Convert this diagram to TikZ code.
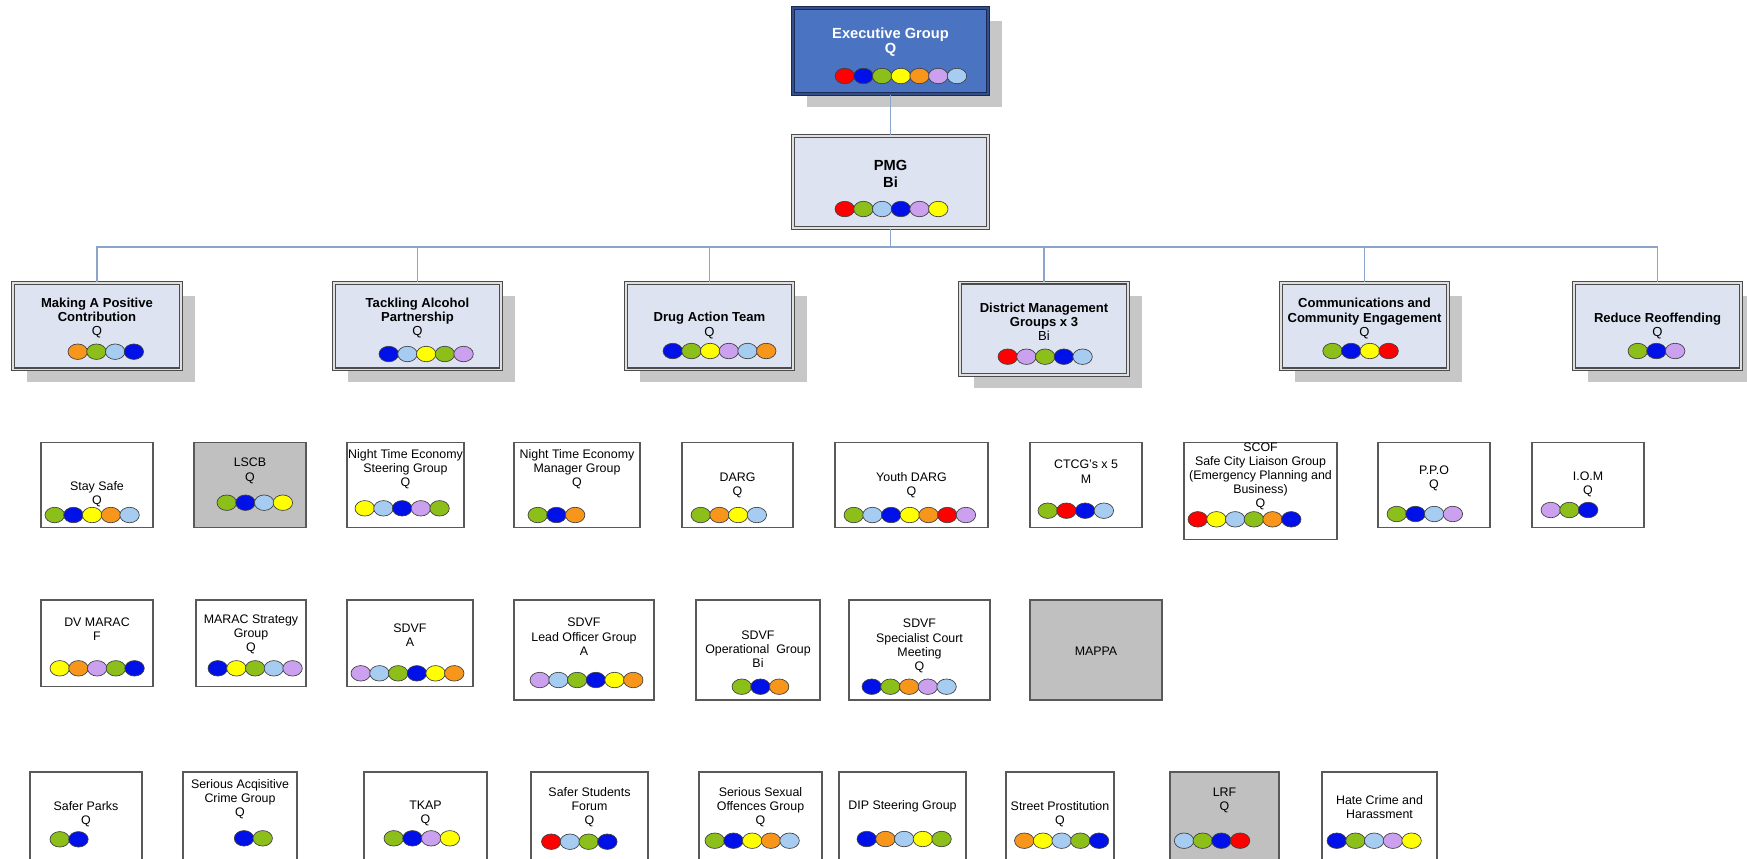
\documentclass[tikz,border=0pt]{standalone}
\usepackage{fontspec}
\setmainfont{Liberation Sans}
\usepackage{tikz}
\usetikzlibrary{shadows}
\definecolor{topblue}{HTML}{4A73C2}
\definecolor{topnavy}{HTML}{1B2A55}
\definecolor{leadfill}{HTML}{DDE3F1}
\definecolor{greyfill}{HTML}{C0C0C0}
\definecolor{linkblue}{HTML}{8AA5C8}
\definecolor{bR}{HTML}{FF0000}
\definecolor{bB}{HTML}{0010E8}
\definecolor{bG}{HTML}{8CBF1A}
\definecolor{bY}{HTML}{FFFF00}
\definecolor{bO}{HTML}{F8961C}
\definecolor{bL}{HTML}{CBA0EE}
\definecolor{bS}{HTML}{A6CCF2}
\tikzstyle{panel} = [rectangle, draw=black!70, line width=0.8pt, double=black!12, double distance=1.2pt, fill=leadfill, inner sep=0pt]
\tikzstyle{leadbox} = [panel, drop shadow={shadow xshift=10.5pt, shadow yshift=-9.75pt, fill=black!22, opacity=1}]
\tikzstyle{topbox} = [panel, draw=topnavy, double=topnavy!50!topblue, fill=topblue, drop shadow={shadow xshift=10.5pt, shadow yshift=-9.75pt, fill=black!22, opacity=1}]
\tikzstyle{groupbox} = [rectangle, draw=black!65, line width=0.9pt, fill=white, inner sep=0pt]
\tikzstyle{greybox} = [groupbox, fill=greyfill]
\tikzstyle{toptxt} = [align=center, inner sep=0pt, text=white, font=\fontsize{11}{11.6}\selectfont\bfseries]
\tikzstyle{leadtxt} = [align=center, inner sep=0pt, font=\fontsize{9.8}{10.6}\selectfont]
\tikzstyle{grptxt} = [align=center, inner sep=0pt, font=\fontsize{9.3}{10.6}\selectfont]
\tikzstyle{ball} = [draw=black!75, line width=0.5pt]
\tikzstyle{conn} = [draw=linkblue, line width=1.1pt]
\tikzset{boxsize/.style 2 args={minimum width=#1*0.75pt, minimum height=#2*0.75pt}}
\newcommand{\balls}[3]{\foreach \cl [count=\i from 0] in {#3} {\draw[ball, fill=\cl] (#1+\i*18.7, #2) ellipse [x radius=7.3pt, y radius=5.8pt];}}

\begin{document}
\begin{tikzpicture}[x=0.75pt, y=-0.75pt]
    \useasboundingbox (0,0) rectangle (1747,858);

    % top
    \node[topbox, boxsize={195}{86}] (exec) at (890.5,51) {};
    \node[toptxt] (execT) at (890.5,42) {Executive Group\\Q};
    \balls{844.75}{76}{bR,bB,bG,bY,bO,bL,bS}
    \node[panel, boxsize={195}{92}] (pmg) at (890.5,182) {};
    \node[leadtxt, font=\fontsize{11}{12.5}\selectfont\bfseries] (pmgT) at (890.5,174) {PMG\\Bi};
    \balls{844.75}{209}{bR,bG,bS,bB,bL,bY}

    % lead groups
    \node[leadbox, boxsize={168}{86.6}] (making) at (97,326) {};
    \node[leadtxt] (makingT) at (97,318) {\textbf{Making A Positive}\\\textbf{Contribution}\\Q};
    \balls{77.75}{351.7}{bO,bG,bS,bB}
    \node[leadbox, boxsize={167}{86.6}] (tackle) at (417.5,326) {};
    \node[leadtxt] (tackleT) at (417.5,318) {\textbf{Tackling Alcohol}\\\textbf{Partnership}\\Q};
    \balls{388.75}{354}{bB,bS,bY,bG,bL}
    \node[leadbox, boxsize={167}{86.6}] (drug) at (709.5,326) {};
    \node[leadtxt] (drugT) at (709.5,325.5) {\textbf{Drug Action Team}\\Q};
    \balls{672.75}{351}{bB,bG,bY,bL,bS,bO}
    \node[leadbox, boxsize={168}{92.3}] (district) at (1044,328.8) {};
    \node[leadtxt] (districtT) at (1044,321.5) {\textbf{District Management}\\\textbf{Groups x 3}\\Bi};
    \balls{1007.75}{356.7}{bR,bL,bG,bB,bS}
    \node[leadbox, boxsize={167}{86.6}] (comms) at (1364.5,326) {};
    \node[leadtxt] (commsT) at (1364.5,318.6) {\textbf{Communications and}\\\textbf{Community Engagement}\\Q};
    \balls{1332.5}{351}{bG,bB,bY,bR}
    \node[leadbox, boxsize={167}{86.6}] (reduce) at (1657.5,326) {};
    \node[leadtxt] (reduceT) at (1657.5,326.2) {\textbf{Reduce Reoffending}\\Q};
    \balls{1637.75}{351}{bG,bB,bL}

    % links
    \coordinate (bar) at (890.5,247);
    \draw[conn] (exec) -- (pmg);
    \draw[conn] (pmg) -- (bar);
    \foreach \n in {making,tackle,drug,district,comms,reduce}
        \draw[conn] (bar) -| (\n.north);

    % row 1
    \node[groupbox, boxsize={112}{85}] (stay) at (97,484.8) {};
    \node[grptxt] (stayT) at (97,494.2) {Stay Safe\\Q};
    \balls{54.75}{515}{bG,bB,bY,bO,bS}
    \node[greybox, boxsize={112}{85}] (lscb) at (250,484.8) {};
    \node[grptxt] (lscbT) at (250,470.8) {LSCB\\Q};
    \balls{226.75}{502.7}{bG,bB,bS,bY}
    \node[groupbox, boxsize={117}{85}] (nteSteer) at (405.5,484.8) {};
    \node[grptxt] (nteSteerT) at (405.5,469.2) {Night Time Economy\\Steering Group\\Q};
    \balls{364.75}{508.3}{bY,bS,bB,bL,bG}
    \node[groupbox, boxsize={126}{85}] (nteMgr) at (577,484.8) {};
    \node[grptxt] (nteMgrT) at (577,469.2) {Night Time Economy\\Manager Group\\Q};
    \balls{537.75}{515}{bG,bB,bO}
    \node[groupbox, boxsize={111}{85}] (darg) at (737.5,484.8) {};
    \node[grptxt] (dargT) at (737.5,485) {DARG\\Q};
    \balls{700.75}{515}{bG,bO,bY,bS}
    \node[groupbox, boxsize={153}{85}] (ydarg) at (911.5,484.8) {};
    \node[grptxt] (ydargT) at (911.5,485) {Youth DARG\\Q};
    \balls{853.75}{515}{bG,bS,bB,bY,bO,bR,bL}
    \node[groupbox, boxsize={112}{85}] (ctcg) at (1086,484.8) {};
    \node[grptxt] (ctcgT) at (1086,471.7) {CTCG's x 5\\M};
    \balls{1047.75}{510.7}{bG,bR,bB,bS}
    \node[groupbox, boxsize={153}{97}] (scof) at (1260.5,490.8) {};
    \node[grptxt] (scofT) at (1260.5,476.5) {SCOF\\Safe City Liaison Group\\(Emergency Planning and\\Business)\\Q};
    \balls{1197.75}{519.3}{bR,bY,bS,bG,bO,bB}
    \node[groupbox, boxsize={112}{85}] (ppo) at (1434,484.8) {};
    \node[grptxt] (ppoT) at (1434,478.3) {P.P.O\\Q};
    \balls{1396.75}{514}{bG,bB,bS,bL}
    \node[groupbox, boxsize={112}{85}] (iom) at (1588,484.8) {};
    \node[grptxt] (iomT) at (1588,484.2) {I.O.M\\Q};
    \balls{1550.75}{510}{bL,bG,bB}

    % row 2
    \node[groupbox, boxsize={112}{86.7}] (dvMarac) at (97,643.3) {};
    \node[grptxt] (dvMaracT) at (97,629.5) {DV MARAC\\F};
    \balls{59.75}{668.3}{bY,bO,bL,bG,bB}
    \node[groupbox, boxsize={110}{86.7}] (maracStrat) at (251,643.3) {};
    \node[grptxt] (maracStratT) at (251,634) {MARAC Strategy\\Group\\Q};
    \balls{217.75}{668.3}{bB,bY,bG,bS,bL}
    \node[groupbox, boxsize={126}{86.7}] (sdvf) at (410,643.3) {};
    \node[grptxt] (sdvfT) at (410,635) {SDVF\\A};
    \balls{360.75}{673.3}{bL,bS,bG,bB,bY,bO}
    \node[groupbox, boxsize={140}{100}] (sdvfLead) at (584,650) {};
    \node[grptxt] (sdvfLeadT) at (584,636.7) {SDVF\\Lead Officer Group\\A};
    \balls{539.75}{680}{bL,bS,bG,bB,bY,bO}
    \node[groupbox, boxsize={124}{100}] (sdvfOps) at (758,650) {};
    \node[grptxt] (sdvfOpsT) at (758,649.2) {SDVF\\Operational\ \ Group\\Bi};
    \balls{741.75}{686.7}{bG,bB,bO}
    \node[groupbox, boxsize={141}{100}] (sdvfCourt) at (919.5,650) {};
    \node[grptxt] (sdvfCourtT) at (919.5,646) {SDVF\\Specialist Court\\Meeting\\Q};
    \balls{871.75}{686.7}{bB,bG,bO,bL,bS}
    \node[greybox, boxsize={132}{100}] (mappa) at (1096,650) {};
    \node[grptxt] (mappaT) at (1096,651) {MAPPA};

    % row 3
    \node[groupbox, boxsize={112}{93}] (parks) at (86,818.5) {};
    \node[grptxt] (parksT) at (86,813.8) {Safer Parks\\Q};
    \balls{59.75}{839.3}{bG,bB}
    \node[groupbox, boxsize={114}{93}] (acq) at (240,818.5) {};
    \node[grptxt] (acqT) at (240,799.2) {Serious Acqisitive\\Crime Group\\Q};
    \balls{244}{838.3}{bB,bG}
    \node[groupbox, boxsize={123}{93}] (tkap) at (425.5,818.5) {};
    \node[grptxt] (tkapT) at (425.5,813.8) {TKAP\\Q};
    \balls{393.75}{838.3}{bG,bB,bL,bY}
    \node[groupbox, boxsize={117}{93}] (students) at (589.5,818.5) {};
    \node[grptxt] (studentsT) at (589.5,807.2) {Safer Students\\Forum\\Q};
    \balls{551.25}{841.7}{bR,bS,bG,bB}
    \node[groupbox, boxsize={123}{93}] (sexual) at (760.5,818.5) {};
    \node[grptxt] (sexualT) at (760.5,807.2) {Serious Sexual\\Offences Group\\Q};
    \balls{714.75}{840.7}{bG,bB,bY,bO,bS}
    \node[groupbox, boxsize={127}{93}] (dip) at (902.5,818.5) {};
    \node[grptxt] (dipT) at (902.5,806.7) {DIP Steering Group};
    \balls{866.75}{839}{bB,bO,bS,bY,bG}
    \node[groupbox, boxsize={108}{93}] (street) at (1060,818.5) {};
    \node[grptxt] (streetT) at (1060,813.8) {Street Prostitution\\Q};
    \balls{1024.25}{840.7}{bO,bY,bS,bG,bB}
    \node[greybox, boxsize={109}{93}] (lrf) at (1224.5,818.5) {};
    \node[grptxt] (lrfT) at (1224.5,800) {LRF\\Q};
    \balls{1184}{840.7}{bS,bG,bB,bR}
    \node[groupbox, boxsize={115}{93}] (hate) at (1379.5,818.5) {};
    \node[grptxt] (hateT) at (1379.5,807.2) {Hate Crime and\\Harassment};
    \balls{1336.75}{840.7}{bB,bG,bS,bL,bY}
\end{tikzpicture}
\end{document}
